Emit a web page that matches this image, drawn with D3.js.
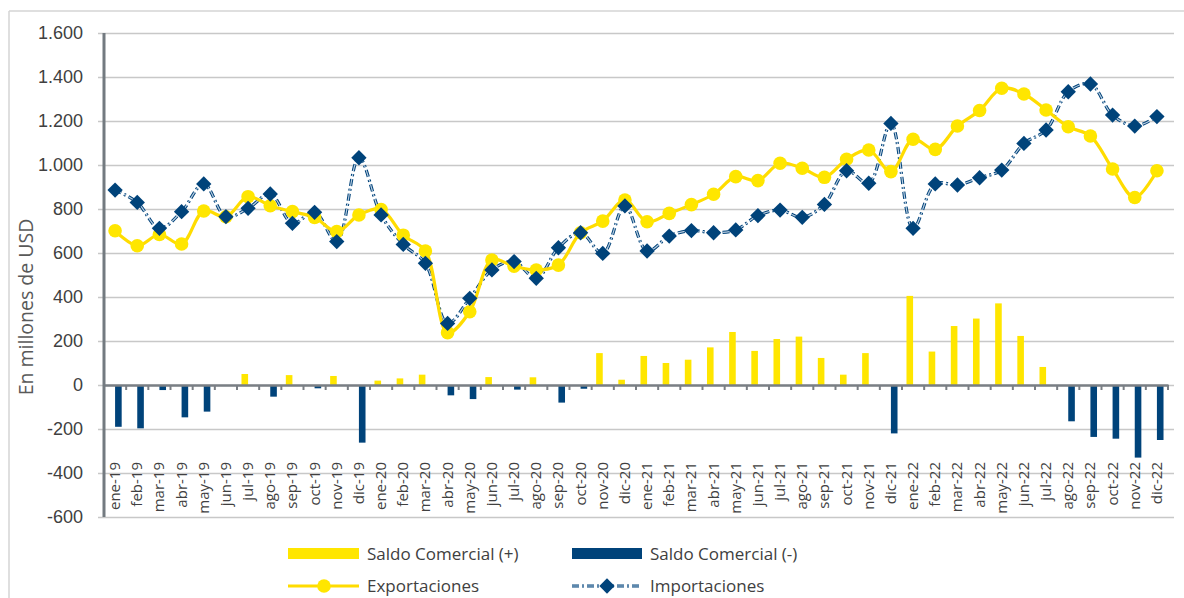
<!DOCTYPE html>
<html>
<head>
<meta charset="utf-8">
<script src="https://cdn.jsdelivr.net/npm/d3@7"></script>
<style>
  body { margin: 0; background: #fff; }
  svg { font-family: "Open Sans", "Noto Sans", sans-serif; }
</style>
</head>
<body>
<svg id="chart" width="1184" height="598"></svg>
<script>
const categories = [
  "ene-19","feb-19","mar-19","abr-19","may-19","jun-19","jul-19","ago-19","sep-19","oct-19","nov-19","dic-19",
  "ene-20","feb-20","mar-20","abr-20","may-20","jun-20","jul-20","ago-20","sep-20","oct-20","nov-20","dic-20",
  "ene-21","feb-21","mar-21","abr-21","may-21","jun-21","jul-21","ago-21","sep-21","oct-21","nov-21","dic-21",
  "ene-22","feb-22","mar-22","abr-22","may-22","jun-22","jul-22","ago-22","sep-22","oct-22","nov-22","dic-22"
];

const exportaciones = [
  701, 633, 684, 641, 791, 765, 856, 815, 788, 762, 697, 773,
  798, 681, 609, 238, 333, 568, 540, 523, 545, 692, 745, 841,
  742, 780, 820, 867, 947, 929, 1008, 985, 944, 1026, 1068, 970,
  1117, 1071, 1177, 1248, 1349, 1323, 1250, 1174, 1132, 982, 852, 974
];

const importaciones = [
  886, 830, 712, 788, 914, 765, 803, 868, 735, 785, 652, 1033,
  773, 639, 553, 280, 394, 523, 561, 485, 624, 692, 598, 814,
  609, 677, 702, 692, 705, 770, 795, 762, 821, 974, 917, 1189,
  712, 914, 909, 942, 977, 1098, 1159, 1333, 1368, 1227, 1177, 1220
];

const saldoPositivo = [
  0, 0, 0, 0, 0, 0, 50, 0, 45, 0, 41, 0,
  20, 30, 47, 0, 0, 36, 0, 35, 0, 0, 145, 24,
  132, 100, 115, 171, 241, 155, 209, 220, 123, 47, 145, 0,
  405, 152, 268, 302, 371, 223, 82, 0, 0, 0, 0, 0
];

const saldoNegativo = [
  -190, -197, -23, -147, -121, 0, 0, -53, 0, -15, 0, -262,
  0, 0, 0, -47, -64, 0, -21, 0, -80, -17, 0, 0,
  0, 0, 0, 0, 0, 0, 0, 0, 0, 0, 0, -220,
  0, 0, 0, 0, 0, 0, 0, -165, -236, -244, -330, -250
];

const yTicks = [-600, -400, -200, 0, 200, 400, 600, 800, 1000, 1200, 1400, 1600];

const svg = d3.select("#chart"),
      margin = {top: 33, right: 16, bottom: 81, left: 104},
      width = +svg.attr("width"),
      height = +svg.attr("height");

const yellow = "#ffe600",
      yellowLine = "#ffdc00",
      navy = "#00437a",
      textColor = "#404040";

const locale = d3.formatLocale({decimal: ",", thousands: ".", grouping: [3], currency: ["$", ""], minus: "-"});
const fmt = locale.format(",d");

const x = d3.scaleBand().domain(categories).range([margin.left, width - margin.right]).padding(0);
const sub = d3.scaleBand().domain(["pos", "neg"]).range([0, x.bandwidth()]).paddingInner(0).paddingOuter(0.68);
const y = d3.scaleLinear().domain([-600, 1600]).range([height - margin.bottom, margin.top]);

// outer frame (only left and top visible)
svg.append("line").attr("x1", 9).attr("x2", 9).attr("y1", 11).attr("y2", height)
  .attr("stroke", "#d4d4d4").attr("stroke-width", 1.5);
svg.append("line").attr("x1", 9).attr("x2", width).attr("y1", 11).attr("y2", 11)
  .attr("stroke", "#d4d4d4").attr("stroke-width", 1.5);

// y axis with gridlines
const yAxis = d3.axisLeft(y)
  .tickValues(yTicks)
  .tickSize(-(width - margin.right - margin.left) - 6)
  .tickPadding(12)
  .tickFormat(fmt);

const gy = svg.append("g")
  .attr("transform", `translate(${margin.left - 6},0)`)
  .call(yAxis);
gy.select(".domain").remove();
gy.selectAll(".tick line").attr("stroke", "#c8c8c8").attr("stroke-width", 1.5)
  .attr("transform", "translate(6,0)").attr("x1", -6);
gy.selectAll(".tick text")
  .attr("fill", textColor)
  .attr("font-size", 18)
  .attr("x", -15);

// category labels
svg.append("g").selectAll("text")
  .data(categories)
  .join("text")
  .attr("transform", d => `translate(${x(d) + x.bandwidth() / 2 + 5},462) rotate(-90)`)
  .attr("text-anchor", "end")
  .attr("fill", textColor)
  .attr("font-size", 15)
  .text(d => d);

// y title
svg.append("text")
  .attr("transform", "translate(33,307) rotate(-90)")
  .attr("text-anchor", "middle")
  .attr("fill", "#595959")
  .attr("font-size", 19.5)
  .text("En millones de USD");

// bars
svg.append("g").selectAll("rect")
  .data(categories)
  .join("rect")
  .attr("x", d => x(d) + sub("pos"))
  .attr("width", sub.bandwidth())
  .attr("y", (d, i) => y(saldoPositivo[i]))
  .attr("height", (d, i) => y(0) - y(saldoPositivo[i]))
  .attr("fill", yellow);

svg.append("g").selectAll("rect")
  .data(categories)
  .join("rect")
  .attr("x", d => x(d) + sub("neg"))
  .attr("width", sub.bandwidth())
  .attr("y", y(0))
  .attr("height", (d, i) => y(saldoNegativo[i]) - y(0))
  .attr("fill", navy);

// zero axis with ticks between categories
const xAxis = d3.axisBottom(x).tickSize(0).tickFormat("");
const gx = svg.append("g").attr("transform", `translate(0,${y(0)})`).call(xAxis);
gx.select(".domain").attr("stroke", "#7a7f85").attr("stroke-width", 2.5);
gx.selectAll(".tick").remove();
gx.selectAll(".sep")
  .data(categories)
  .join("line")
  .attr("x1", d => x(d) + x.bandwidth())
  .attr("x2", d => x(d) + x.bandwidth())
  .attr("y1", 0).attr("y2", 5)
  .attr("stroke", "#7a7f85").attr("stroke-width", 2);

// left axis line
svg.append("line")
  .attr("x1", margin.left).attr("x2", margin.left)
  .attr("y1", y(1600)).attr("y2", y(-600))
  .attr("stroke", "#737a80").attr("stroke-width", 3);

const cx = d => x(d) + x.bandwidth() / 2;

const line = d3.line()
  .x(d => cx(d.c))
  .y(d => y(d.v))
  .curve(d3.curveCatmullRom.alpha(0.5));

const impData = categories.map((c, i) => ({c, v: importaciones[i]}));
const expData = categories.map((c, i) => ({c, v: exportaciones[i]}));

// importaciones line: dark dashed with light core
svg.append("path").datum(impData).attr("d", line)
  .attr("fill", "none").attr("stroke", navy).attr("stroke-width", 3.2)
  .attr("stroke-dasharray", "7,3,2,3");
svg.append("path").datum(impData).attr("d", line)
  .attr("fill", "none").attr("stroke", "#b9cde0").attr("stroke-width", 1.2)
  .attr("stroke-dasharray", "7,3,2,3");

// exportaciones line
svg.append("path").datum(expData).attr("d", line)
  .attr("fill", "none").attr("stroke", yellowLine).attr("stroke-width", 3.2);

svg.append("g").selectAll("circle")
  .data(expData)
  .join("circle")
  .attr("cx", d => cx(d.c))
  .attr("cy", d => y(d.v))
  .attr("r", 6.8)
  .attr("fill", yellow);

const diamond = d3.symbol().type(d3.symbolDiamond2).size(150);
svg.append("g").selectAll("path")
  .data(impData)
  .join("path")
  .attr("transform", d => `translate(${cx(d.c)},${y(d.v)})`)
  .attr("d", diamond)
  .attr("fill", navy);

// legend
const legend = svg.append("g").attr("font-size", 17).attr("fill", textColor);
legend.append("rect").attr("x", 288).attr("y", 548).attr("width", 71).attr("height", 11).attr("fill", yellow);
legend.append("text").attr("x", 367).attr("y", 560).text("Saldo Comercial (+)");
legend.append("rect").attr("x", 572).attr("y", 548).attr("width", 70).attr("height", 11).attr("fill", navy);
legend.append("text").attr("x", 650).attr("y", 560).text("Saldo Comercial (-)");

legend.append("line").attr("x1", 288).attr("x2", 359).attr("y1", 586).attr("y2", 586)
  .attr("stroke", yellowLine).attr("stroke-width", 3.2);
legend.append("circle").attr("cx", 324).attr("cy", 586).attr("r", 6.8).attr("fill", yellow);
legend.append("text").attr("x", 367).attr("y", 592).text("Exportaciones");

legend.append("line").attr("x1", 572).attr("x2", 642).attr("y1", 586).attr("y2", 586)
  .attr("stroke", navy).attr("stroke-width", 3.2).attr("stroke-dasharray", "7,3,2,3");
legend.append("line").attr("x1", 572).attr("x2", 642).attr("y1", 586).attr("y2", 586)
  .attr("stroke", "#b9cde0").attr("stroke-width", 1.2).attr("stroke-dasharray", "7,3,2,3");
legend.append("path").attr("transform", "translate(607,586)").attr("d", diamond).attr("fill", navy);
legend.append("text").attr("x", 650).attr("y", 592).text("Importaciones");
</script>
</body>
</html>
